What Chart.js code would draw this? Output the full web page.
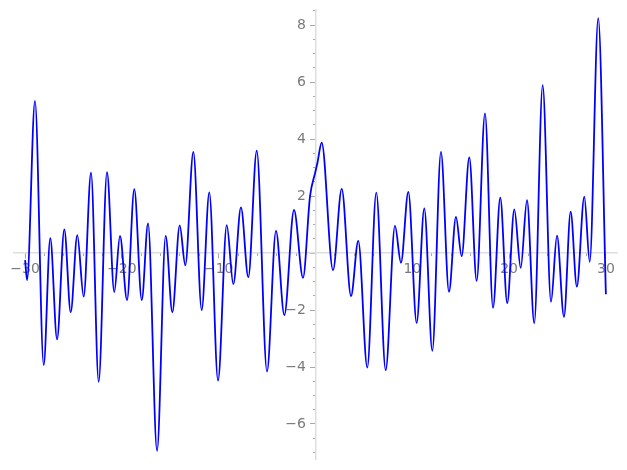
<!DOCTYPE html>
<html>
<head>
<meta charset="utf-8">
<script src="https://cdn.jsdelivr.net/npm/chart.js@4/dist/chart.umd.min.js"></script>
<style>
  html, body { margin: 0; padding: 0; background: #ffffff; }
  #wrap { width: 627px; height: 470px; position: relative; }
</style>
</head>
<body>
<div id="wrap"><canvas id="c"></canvas></div>
<script>
const xValues = [
  -30.00, -29.80, -28.98, -28.08, -27.40, -26.70, -25.95, -25.29, -24.61, -23.95,
  -23.19, -22.40, -21.54, -20.79, -20.20, -19.47, -18.72, -17.95, -17.30, -16.37,
  -15.48, -14.79, -14.03, -13.45, -12.62, -11.76, -10.97, -10.07, -9.17, -8.49,
  -7.70, -6.94, -6.07, -5.01, -4.08, -3.22, -2.22, -1.29, -0.57, -0.05,
  0.19, 0.64, 1.81, 2.71, 3.67, 4.42, 5.35, 6.28, 7.25, 8.21,
  8.83, 9.59, 10.45, 11.24, 12.07, 12.96, 13.79, 14.51, 15.10, 15.89,
  16.65, 17.51, 18.34, 19.09, 19.81, 20.54, 21.20, 21.85, 22.60, 23.47,
  24.33, 24.95, 25.67, 26.36, 27.00, 27.77, 28.33, 29.21, 30.00
];
const yValues = [
  -0.25, -0.95, 5.34, -3.93, 0.52, -3.03, 0.83, -2.08, 0.63, -1.53,
  2.82, -4.52, 2.84, -1.37, 0.60, -1.65, 2.24, -1.65, 1.04, -6.94,
  0.60, -2.08, 0.97, -0.43, 3.55, -2.00, 2.13, -4.48, 0.98, -1.09,
  1.60, -0.85, 3.59, -4.16, 0.78, -2.18, 1.51, -0.87, 1.98, 2.80,
  3.15, 3.87, -0.60, 2.25, -1.51, 0.43, -4.02, 2.12, -4.11, 0.95,
  -0.34, 2.15, -2.45, 1.57, -3.43, 3.55, -1.36, 1.27, -0.11, 3.36,
  -0.98, 4.90, -1.92, 1.94, -1.76, 1.53, -0.52, 1.86, -2.46, 5.89,
  -1.71, 0.61, -2.24, 1.45, -1.18, 1.98, -0.31, 8.24, -1.45
];
// Axis ticks
const xMajorTicks = [-30, -20, -10, 0, 10, 20, 30];
const xMinorTicks = [-30, -28, -26, -24, -22, -20, -18, -16, -14, -12, -10, -8, -6, -4, -2, 0,
                     2, 4, 6, 8, 10, 12, 14, 16, 18, 20, 22, 24, 26, 28, 30];
const yMajorTicks = [-6, -4, -2, 0, 2, 4, 6, 8];
const yMinorTicks = [-7, -6.5, -6, -5.5, -5, -4.5, -4, -3.5, -3, -2.5, -2, -1.5, -1, -0.5, 0,
                     0.5, 1, 1.5, 2, 2.5, 3, 3.5, 4, 4.5, 5, 5.5, 6, 6.5, 7, 7.5, 8, 8.5];
const xRange = [-31.2, 31.2];
const yRange = [-7.25, 8.53];

const points = xValues.map((x, i) => ({ x: x, y: yValues[i] }));
const fmt = v => (v < 0 ? '\u2212' + Math.abs(v) : String(v));

const axisColor = '#dedede';
const tickColor = '#a8a8a8';
const labelColor = '#7a7a7a';
const font = { family: 'DejaVu Sans', size: 14 };

function zeroFit(scale) {
  if (scale.isHorizontal()) { scale.height = 0; } else { scale.width = 0; }
  scale.paddingLeft = 0; scale.paddingRight = 0; scale.paddingTop = 0; scale.paddingBottom = 0;
}
function setTicks(arr) {
  return function (scale) { scale.ticks = arr.map(v => ({ value: v })); };
}

new Chart(document.getElementById('c'), {
  type: 'line',
  data: {
    datasets: [{
      data: points,
      borderColor: '#0000ff',
      borderWidth: 1.8,
      pointRadius: 0,
      fill: false,
      cubicInterpolationMode: 'monotone',
      xAxisID: 'x',
      yAxisID: 'y'
    }]
  },
  options: {
    responsive: true,
    maintainAspectRatio: false,
    animation: false,
    layout: { padding: { left: 13.5, right: 9.5, top: 10, bottom: 10.4 } },
    plugins: { legend: { display: false }, tooltip: { enabled: false } },
    scales: {
      xm: {
        axis: 'x', type: 'linear', position: { y: 0 }, min: xRange[0], max: xRange[1],
        afterBuildTicks: setTicks(xMinorTicks), afterFit: zeroFit,
        grid: { drawOnChartArea: false, drawTicks: true, tickLength: 3, tickColor: tickColor, tickWidth: 1 },
        border: { display: false },
        ticks: { autoSkip: false, maxRotation: 0, callback: () => '' }
      },
      ym: {
        axis: 'y', type: 'linear', position: { x: 0 }, min: yRange[0], max: yRange[1],
        afterBuildTicks: setTicks(yMinorTicks), afterFit: zeroFit,
        grid: { drawOnChartArea: false, drawTicks: true, tickLength: 3, tickColor: tickColor, tickWidth: 1 },
        border: { display: false },
        ticks: { autoSkip: false, callback: () => '' }
      },
      // label-only y scale, placed just left of the y axis
      yl: {
        axis: 'y', type: 'linear', position: { x: -1.0 }, min: yRange[0], max: yRange[1],
        afterBuildTicks: setTicks(yMajorTicks), afterFit: zeroFit,
        grid: { display: false, drawOnChartArea: false, drawTicks: false },
        border: { display: false },
        ticks: { autoSkip: false, color: labelColor, font: font,
                 callback: v => (v === 0 ? '' : fmt(v)) }
      },
      x: {
        type: 'linear', position: { y: 0 }, min: xRange[0], max: xRange[1],
        afterBuildTicks: setTicks(xMajorTicks), afterFit: zeroFit,
        grid: { drawOnChartArea: false, drawTicks: true, tickLength: 5, tickColor: tickColor, tickWidth: 1 },
        border: { display: true, color: axisColor, width: 1.5 },
        ticks: { autoSkip: false, maxRotation: 0, padding: 3, color: labelColor, font: font,
                 callback: v => (v === 0 ? '' : fmt(v)) }
      },
      y: {
        type: 'linear', position: { x: 0 }, min: yRange[0], max: yRange[1],
        afterBuildTicks: setTicks(yMajorTicks), afterFit: zeroFit,
        grid: { drawOnChartArea: false, drawTicks: true, tickLength: 5, tickColor: tickColor, tickWidth: 1 },
        border: { display: true, color: axisColor, width: 1.5 },
        ticks: { autoSkip: false, callback: () => '' }
      }
    }
  }
});
</script>
</body>
</html>
